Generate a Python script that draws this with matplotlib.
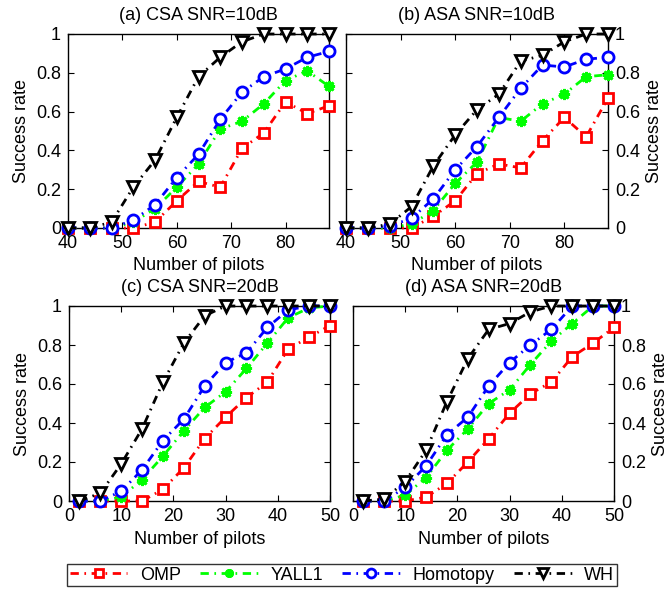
import matplotlib
matplotlib.use("Agg")
import matplotlib.pyplot as plt

plt.rcParams['font.family'] = ['Liberation Sans', 'DejaVu Sans']

x_10 = [40, 44, 48, 52, 56, 60, 64, 68, 72, 76, 80, 84, 88]
x_20 = [2, 6, 10, 14, 18, 22, 26, 30, 34, 38, 42, 46, 50]

# (a) CSA SNR=10dB
a_omp = [0, 0, 0, 0, 0.03, 0.14, 0.24, 0.21, 0.41, 0.49, 0.65, 0.59, 0.63]
a_yall1 = [0, 0, 0, 0.03, 0.10, 0.21, 0.33, 0.51, 0.55, 0.64, 0.76, 0.81, 0.73]
a_homotopy = [0, 0, 0, 0.04, 0.12, 0.26, 0.38, 0.56, 0.70, 0.78, 0.82, 0.88, 0.91]
a_wh = [0, 0, 0.03, 0.21, 0.35, 0.57, 0.78, 0.88, 0.96, 1, 1, 1, 1]

# (b) ASA SNR=10dB
b_omp = [0, 0, 0, 0, 0.06, 0.14, 0.28, 0.33, 0.31, 0.45, 0.57, 0.47, 0.67]
b_yall1 = [0, 0, 0, 0.02, 0.09, 0.23, 0.34, 0.57, 0.55, 0.64, 0.69, 0.78, 0.79]
b_homotopy = [0, 0, 0.01, 0.05, 0.15, 0.30, 0.42, 0.57, 0.72, 0.84, 0.83, 0.87, 0.88]
b_wh = [0, 0, 0.02, 0.11, 0.32, 0.48, 0.61, 0.69, 0.86, 0.89, 0.96, 1, 1]

# (c) CSA SNR=20dB
c_omp = [0, 0, 0, 0, 0.06, 0.17, 0.32, 0.43, 0.53, 0.61, 0.78, 0.84, 0.90]
c_yall1 = [0, 0, 0.02, 0.11, 0.23, 0.36, 0.48, 0.56, 0.68, 0.81, 0.94, 0.99, 1]
c_homotopy = [0, 0, 0.05, 0.16, 0.31, 0.42, 0.59, 0.71, 0.76, 0.89, 0.98, 1, 1]
c_wh = [0, 0.04, 0.19, 0.37, 0.61, 0.81, 0.95, 1, 1, 1, 1, 1, 1]

# (d) ASA SNR=20dB
d_omp = [0, 0, 0, 0.02, 0.09, 0.20, 0.32, 0.45, 0.55, 0.61, 0.74, 0.81, 0.89]
d_yall1 = [0, 0, 0.03, 0.12, 0.26, 0.37, 0.50, 0.57, 0.70, 0.82, 0.91, 1, 1]
d_homotopy = [0, 0, 0.07, 0.18, 0.34, 0.43, 0.59, 0.71, 0.80, 0.88, 1, 1, 1]
d_wh = [0, 0.01, 0.10, 0.26, 0.51, 0.73, 0.88, 0.91, 0.97, 1, 1, 1, 1]

labels = ['OMP', 'YALL1', 'Homotopy', 'WH']
titles = ['(a) CSA SNR=10dB', '(b) ASA SNR=10dB', '(c) CSA SNR=20dB', '(d) ASA SNR=20dB']

styles = [
    dict(color='#ff0000', marker='s', mfc='white', mec='#ff0000', ms=7),
    dict(color='#00ff00', marker=(8, 2, 0), mfc='#00ff00', mec='#00ff00', ms=8),
    dict(color='#0000ff', marker='o', mfc='white', mec='#0000ff', ms=8),
    dict(color='black', marker='v', mfc='white', mec='black', ms=8.5),
]

fig = plt.figure(figsize=(6.69, 5.90), dpi=100)
W, H = 669.0, 590.0
FS = 13

def box(l, t, r, b):
    return [l / W, 1 - b / H, (r - l) / W, (b - t) / H]

panels = [
    (box(68, 34, 329, 228), x_10, [a_omp, a_yall1, a_homotopy, a_wh], (40, 88), [40, 50, 60, 70, 80], 'left'),
    (box(346, 34, 608, 228), x_10, [b_omp, b_yall1, b_homotopy, b_wh], (40, 88), [40, 50, 60, 70, 80], 'right'),
    (box(69, 306, 330, 501), x_20, [c_omp, c_yall1, c_homotopy, c_wh], (0, 50), [0, 10, 20, 30, 40, 50], 'left'),
    (box(353, 306, 614, 501), x_20, [d_omp, d_yall1, d_homotopy, d_wh], (0, 50), [0, 10, 20, 30, 40, 50], 'right'),
]

handles = []
for i, (pos, xs, series, xlim, xticks, yside) in enumerate(panels):
    ax = fig.add_axes(pos)
    for j, ys in enumerate(series):
        st = styles[j]
        h, = ax.plot(xs, ys, linestyle=(0, (3, 2, 0.6, 2)), linewidth=2, color=st['color'],
                     marker=st['marker'], markersize=st['ms'], markerfacecolor=st['mfc'],
                     markeredgecolor=st['mec'], markeredgewidth=2, clip_on=False,
                     label=labels[j], zorder=3)
        if i == 0:
            handles.append(h)
    ax.set_xlim(*xlim)
    ax.set_ylim(0, 1)
    ax.set_xticks(xticks)
    ax.set_yticks([0, 0.2, 0.4, 0.6, 0.8, 1])
    ax.set_yticklabels(['0', '0.2', '0.4', '0.6', '0.8', '1'])
    ax.tick_params(direction='in', top=True, right=True, left=True, bottom=True,
                   labelsize=FS, length=4, width=0.8, pad=5)
    if yside == 'right':
        ax.yaxis.set_label_position('right')
        ax.tick_params(labelleft=False, labelright=True)
    ax.set_ylabel('Success rate', fontsize=FS, labelpad=4)
    ax.set_xlabel('Number of pilots', fontsize=FS, labelpad=4)
    ax.set_title(titles[i], fontsize=FS, pad=10)
    for s in ax.spines.values():
        s.set_linewidth(1.0)

leg = fig.legend(handles=handles, labels=labels, loc='center', ncol=4,
                 bbox_to_anchor=(67 / W, 1 - 587 / H, (617 - 67) / W, 24 / H),
                 mode='expand', fontsize=FS, frameon=True, fancybox=False,
                 handlelength=3.2, borderpad=0.15, columnspacing=1.0, handletextpad=0.7,
                 borderaxespad=0, markerscale=0.8)
leg.get_frame().set_edgecolor('black')
leg.get_frame().set_linewidth(1.0)

fig.savefig('out.png', dpi=100)
